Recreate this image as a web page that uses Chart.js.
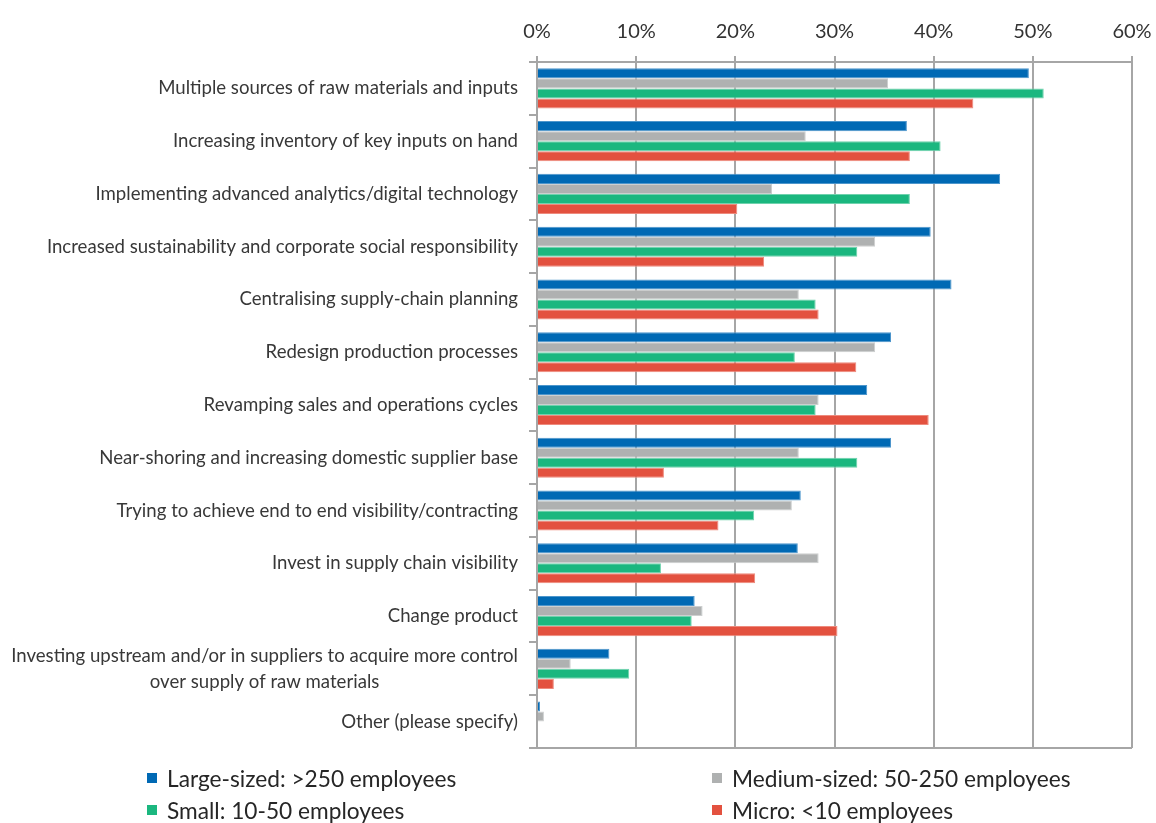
<!DOCTYPE html>
<html>
<head>
<meta charset="utf-8">
<script src="https://cdn.jsdelivr.net/npm/chart.js@4.4.1/dist/chart.umd.min.js"></script>
<style>
  html, body { margin: 0; padding: 0; background: #fff; }
  #wrap { position: relative; width: 1156px; height: 823px; }
  #legend { position: absolute; left: 0; top: 0; width: 1156px; height: 823px; pointer-events: none; }
  .lg-item { position: absolute; display: flex; align-items: center; font: 22.7px Lato, "Open Sans", sans-serif; color: #262626; white-space: nowrap; }
  .lg-box { width: 10px; height: 10px; margin-right: 10px; }
</style>
</head>
<body>
<div id="wrap">
  <canvas id="c" width="1156" height="823"></canvas>
  <div id="legend"></div>
</div>
<script>
  // ── Datos (en %) ─────────────────────────────────────────
  var categorias = [
    'Multiple sources of raw materials and inputs',
    'Increasing inventory of key inputs on hand',
    'Implementing advanced analytics/digital technology',
    'Increased sustainability and corporate social responsibility',
    'Centralising supply-chain planning',
    'Redesign production processes',
    'Revamping sales and operations cycles',
    'Near-shoring and increasing domestic supplier base',
    'Trying to achieve end to end visibility/contracting',
    'Invest in supply chain visibility',
    'Change product',
    ['Investing upstream and/or in suppliers to acquire more control', 'over supply of raw materials'],
    'Other (please specify)'
  ];
  var serieNombres = ['Large-sized: >250 employees', 'Medium-sized: 50-250 employees', 'Small: 10-50 employees', 'Micro: <10 employees'];
  var grande  = [49.6, 37.3, 46.7, 39.7, 41.8, 35.7, 33.3, 35.7, 26.6, 26.3, 15.9, 7.3, 0.3];
  var mediana = [35.4, 27.1, 23.7, 34.1, 26.4, 34.1, 28.4, 26.4, 25.7, 28.4, 16.7, 3.4, 0.7];
  var pequena = [51.1, 40.7, 37.6, 32.3, 28.1, 26.0, 28.1, 32.3, 21.9, 12.5, 15.6, 9.3, 0];
  var micro   = [44.0, 37.6, 20.2, 22.9, 28.4, 32.2, 39.5, 12.8, 18.3, 22.0, 30.3, 1.7, 0];
  var ticksX  = [0, 10, 20, 30, 40, 50, 60];

  var COLORES = ['#0069b4', '#afb1b1', '#1bb77f', '#e3513f'];
  var BORDES  = ['#4d96cc', '#cdcfcf', '#6fd2ad', '#ee8a7d'];
  var GRIS = '#a6a6a6';
  var FUENTE = 'Lato, "Open Sans", sans-serif';

  // ── Etiquetas de categoría: bloque alineado a la derecha, líneas centradas ──
  var etiquetasPlugin = {
    id: 'etiquetas',
    afterDraw: function (chart) {
      var ctx = chart.ctx, y = chart.scales.y;
      var derecha = chart.chartArea.left - 19;
      ctx.save();
      ctx.font = '18.6px ' + FUENTE;
      ctx.fillStyle = '#383838';
      ctx.textAlign = 'center';
      ctx.textBaseline = 'middle';
      categorias.forEach(function (c, i) {
        var lineas = Array.isArray(c) ? c : [c];
        var ancho = Math.max.apply(null, lineas.map(function (l) { return ctx.measureText(l).width; }));
        var cy = y.getPixelForValue(i);
        var lh = 26;
        lineas.forEach(function (l, k) {
          ctx.fillText(l, derecha - ancho / 2, cy + (k - (lineas.length - 1) / 2) * lh);
        });
      });
      ctx.restore();
    }
  };

  var series = [grande, mediana, pequena, micro];
  var chart = new Chart(document.getElementById('c'), {
    type: 'bar',
    data: {
      labels: categorias,
      datasets: series.map(function (s, i) {
        return {
          label: serieNombres[i], data: s,
          backgroundColor: COLORES[i], borderColor: BORDES[i], borderWidth: 1,
          categoryPercentage: 0.76, barPercentage: 1.0
        };
      })
    },
    options: {
      indexAxis: 'y',
      responsive: false,
      animation: false,
      layout: { padding: { top: 0, left: 0, right: 24, bottom: 75 } },
      plugins: { legend: { display: false }, tooltip: { enabled: false } },
      scales: {
        x: {
          position: 'top', min: 0, max: 60,
          // el área del gráfico la fija el padding, no el ancho de "60%"
          afterFit: function (s) { s.height = 62; s.paddingLeft = 0; s.paddingRight = 0; },
          afterBuildTicks: function (s) { s.ticks = ticksX.map(function (v) { return { value: v }; }); },
          ticks: { padding: 12, color: '#333333', font: { family: FUENTE, size: 20 }, callback: function (v) { return v + '%'; } },
          grid: { color: GRIS, lineWidth: 2, tickLength: 6 },
          border: { color: GRIS, width: 2 }
        },
        y: {
          afterFit: function (s) { s.width = 537; },
          ticks: { display: false },
          grid: {
            offset: true, tickLength: 8, lineWidth: 2, tickColor: GRIS,
            color: function (c) { return c.type === 'scale' ? GRIS : 'rgba(0,0,0,0)'; }
          },
          border: { color: GRIS, width: 2 }
        }
      }
    },
    plugins: [etiquetasPlugin]
  });

  // ── Leyenda HTML en dos columnas ─────────────────────────
  var leyenda = document.getElementById('legend');
  var colX = [147, 712], filaY = [778, 810];
  chart.data.datasets.forEach(function (d, i) {
    var it = document.createElement('div');
    it.className = 'lg-item';
    it.style.left = colX[i % 2] + 'px';
    it.style.top = (filaY[Math.floor(i / 2)] - 14) + 'px';
    it.style.height = '28px';
    var b = document.createElement('span');
    b.className = 'lg-box';
    b.style.background = d.backgroundColor;
    it.appendChild(b);
    it.appendChild(document.createTextNode(d.label));
    leyenda.appendChild(it);
  });
</script>
</body>
</html>
